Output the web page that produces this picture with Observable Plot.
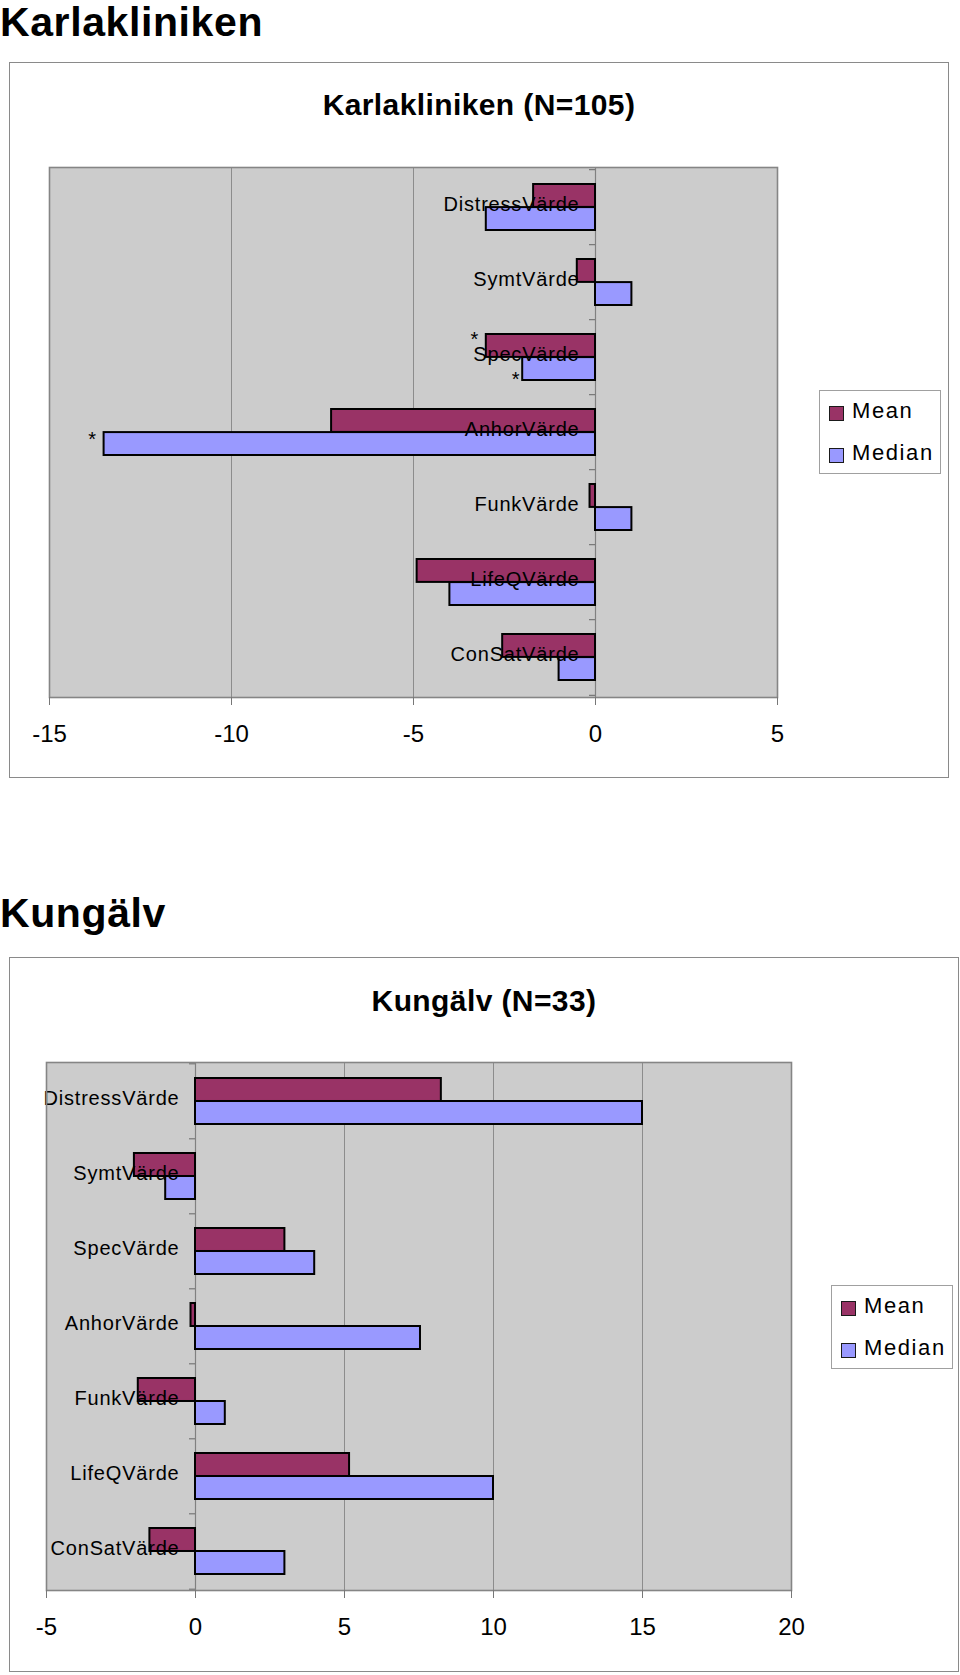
<!DOCTYPE html>
<html>
<head>
<meta charset="utf-8">
<script src="https://cdn.jsdelivr.net/npm/d3@7"></script>
<script src="https://cdn.jsdelivr.net/npm/@observablehq/plot@0.6"></script>
<style>
  body { margin: 0; background: #fff; font-family: "Liberation Sans", Arial, sans-serif; color: #000; }
  #page { position: relative; width: 960px; height: 1675px; overflow: hidden; }
  .abs { position: absolute; }
  .pagetitle { font-weight: bold; font-size: 41px; line-height: 41px; letter-spacing: 0.6px; white-space: nowrap; }
  .box { border: 1.5px solid #8a8a8a; box-sizing: border-box; background: #fff; }
  .ctitle { font-weight: bold; font-size: 30px; line-height: 30px; letter-spacing: 0.4px; text-align: center; white-space: nowrap; }
  .legend { border: 1px solid #a0a0a0; background: #fff; box-sizing: border-box; }
  .sw { position: absolute; width: 15px; height: 15px; border: 1.5px solid #1a1a1a; box-sizing: border-box; }
  .lt { position: absolute; font-size: 22px; line-height: 22px; letter-spacing: 1.6px; white-space: nowrap; }
</style>
</head>
<body>
<div id="page"></div>
<script>
// ---------- data ----------
const categories = ["DistressVärde", "SymtVärde", "SpecVärde", "AnhorVärde", "FunkVärde", "LifeQVärde", "ConSatVärde"];
const series = ["Mean", "Median"];
const seriesColors = ["#993366", "#9999FF"];

const karlaTitle = "Karlakliniken";
const karlaChartTitle = "Karlakliniken (N=105)";
const karlaMean   = [-1.7, -0.5, -3.0, -7.25, -0.15, -4.9, -2.55];
const karlaMedian = [-3.0,  1.0, -2.0, -13.5,  1.0, -4.0, -1.0];
const karlaTicks  = [-15, -10, -5, 0, 5];
const karlaAsterisks = [
  { category: "SpecVärde", series: "Mean" },
  { category: "SpecVärde", series: "Median" },
  { category: "AnhorVärde", series: "Median" }
];

const kungTitle = "Kungälv";
const kungChartTitle = "Kungälv (N=33)";
const kungMean   = [8.25, -2.05, 3.0, -0.15, -1.92, 5.17, -1.53];
const kungMedian = [15.0, -1.0, 4.0, 7.55, 1.0, 10.0, 3.0];
const kungTicks  = [-5, 0, 5, 10, 15, 20];
const kungAsterisks = [];

// ---------- styling ----------
const FONT = "'Liberation Sans', Arial, Helvetica, sans-serif";
const PAD_INNER = 0.39;
const asteriskStyle = [ { dx: -12, dy: -18 }, { dx: -7, dy: 22 }, { dx: -12, dy: 7 } ];

const page = document.getElementById("page");
function addDiv(cls, css, text) {
  const d = document.createElement("div");
  d.className = "abs " + cls;
  Object.assign(d.style, css);
  if (text != null) d.textContent = text;
  page.appendChild(d);
  return d;
}

function legend(left, top) {
  const box = addDiv("legend", { left: left + "px", top: top + "px", width: "122px", height: "84px" });
  series.forEach((s, i) => {
    const sw = document.createElement("div");
    sw.className = "sw";
    Object.assign(sw.style, { left: "9px", top: (15 + i * 42) + "px", background: seriesColors[i] });
    box.appendChild(sw);
    const t = document.createElement("div");
    t.className = "lt";
    Object.assign(t.style, { left: "32px", top: (9 + i * 42) + "px" });
    t.textContent = s;
    box.appendChild(t);
  });
}

function chart({ svgTop, height, marginLeft, marginRight, marginTop, marginBottom, ticks, grid, mean, median, asterisks }) {
  const rows = categories.flatMap((c, i) => [
    { category: c, series: "Mean", value: mean[i] },
    { category: c, series: "Median", value: median[i] }
  ]);
  const innerH = height - marginTop - marginBottom;
  const step = innerH / categories.length;
  const bw = step * (1 - PAD_INNER);
  const astRows = asterisks.map(a => rows.find(r => r.category === a.category && r.series === a.series));

  const svg = Plot.plot({
    width: 960,
    height,
    marginLeft, marginRight, marginTop, marginBottom,
    style: { fontFamily: FONT, background: "transparent", overflow: "visible", color: "#000" },
    x: { domain: [ticks[0], ticks[ticks.length - 1]], label: null },
    y: { domain: categories, paddingInner: PAD_INNER, paddingOuter: PAD_INNER / 2, axis: null, label: null },
    color: { domain: series, range: seriesColors },
    marks: [
      Plot.frame({ fill: "#cccccc", stroke: null }),
      Plot.ruleX(grid, { stroke: "#8c8c8c", strokeWidth: 1 }),
      Plot.ruleX([0], { stroke: "#808080", strokeWidth: 1.2 }),
      Plot.ruleY(categories, { y: d => d, x1: 0, x2: 0, insetLeft: -6, dy: -step / 2, stroke: "#777", strokeWidth: 1.2 }),
      Plot.ruleY(categories.slice(-1), { y: d => d, x1: 0, x2: 0, insetLeft: -6, dy: step / 2, stroke: "#777", strokeWidth: 1.2 }),
      Plot.barX(rows.filter(d => d.series === "Mean"), { x: "value", y: "category", fill: "series", stroke: "#000", strokeWidth: 2, insetBottom: bw / 2 }),
      Plot.barX(rows.filter(d => d.series === "Median"), { x: "value", y: "category", fill: "series", stroke: "#000", strokeWidth: 2, insetTop: bw / 2 }),
      Plot.text(categories, { x: 0, y: d => d, text: d => d, textAnchor: "end", dx: -16, dy: -3, fontSize: 20, fill: "#000" }),
      ...astRows.map((r, i) => Plot.text([r], { x: "value", y: "category", text: () => "*", fontSize: 20, fill: "#000", dx: asteriskStyle[i].dx, dy: asteriskStyle[i].dy })),
      Plot.frame({ stroke: "#858585", strokeWidth: 1.6, fill: null }),
      Plot.axisX(ticks, { tickSize: 8, tickPadding: 19, fontSize: 24, tickFormat: d => String(d), stroke: "#777", fill: "#000", label: null })
    ]
  });
  svg.querySelectorAll("text").forEach(t => {
    if (categories.includes(t.textContent)) t.setAttribute("letter-spacing", "0.8");
  });
  svg.style.position = "absolute";
  svg.style.left = "0px";
  svg.style.top = svgTop + "px";
  page.appendChild(svg);
}

// ---------- chart 1 ----------
addDiv("pagetitle", { left: "0px", top: "2px" }, karlaTitle);
addDiv("box", { left: "9px", top: "62px", width: "940px", height: "716px" });
addDiv("ctitle", { left: "9px", top: "90px", width: "940px" }, karlaChartTitle);
chart({ svgTop: 150, height: 620, marginLeft: 49, marginRight: 183, marginTop: 17, marginBottom: 73,
        ticks: karlaTicks, grid: [-10, -5], mean: karlaMean, median: karlaMedian, asterisks: karlaAsterisks });
legend(819, 390);

// ---------- chart 2 ----------
addDiv("pagetitle", { left: "0px", top: "893px" }, kungTitle);
addDiv("box", { left: "9px", top: "957px", width: "950px", height: "715px" });
addDiv("ctitle", { left: "9px", top: "986px", width: "950px" }, kungChartTitle);
chart({ svgTop: 1045, height: 620, marginLeft: 46, marginRight: 169, marginTop: 17, marginBottom: 75,
        ticks: kungTicks, grid: [5, 10, 15], mean: kungMean, median: kungMedian, asterisks: kungAsterisks });
legend(831, 1285);
</script>
</body>
</html>
